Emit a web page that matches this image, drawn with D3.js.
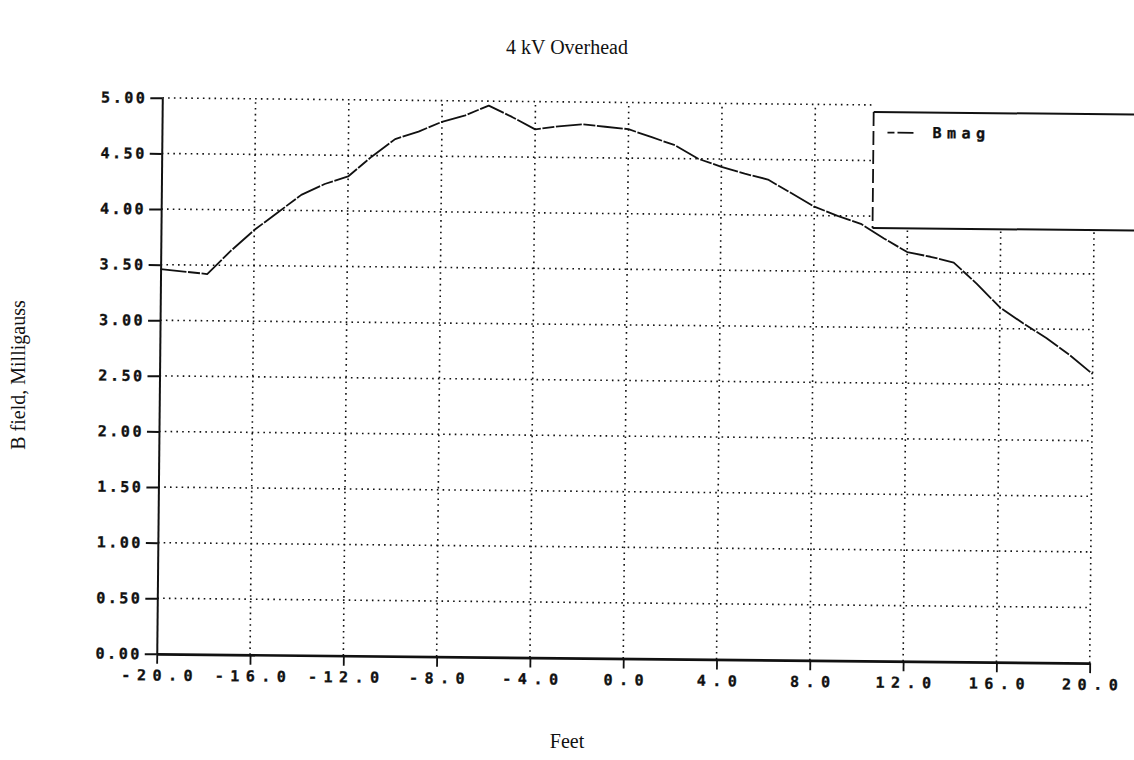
<!DOCTYPE html>
<html>
<head>
<meta charset="utf-8">
<script src="https://cdn.jsdelivr.net/npm/d3@7"></script>
<style>
  html, body { margin: 0; padding: 0; background: #fff; }
</style>
</head>
<body>
<svg id="chart" width="1134" height="760"></svg>
<script>
// Magnetic field profile across a 4 kV overhead line
const chartTitle = "4 kV Overhead";
const xTitle = "Feet";
const yTitle = "B field, Milligauss";
const seriesName = "Bmag";

// lateral distance from the line centre (ft)
const feet = [-20, -19, -18, -17, -16, -15, -14, -13, -12, -11, -10,
              -9, -8, -7, -6, -5, -4, -3, -2, -1, 0,
              1, 2, 3, 4, 5, 6, 7, 8, 9, 10,
              11, 12, 13, 14, 15, 16, 17, 18, 19, 20];
// resultant field magnitude (mG)
const bmag = [3.46, 3.44, 3.42, 3.63, 3.82, 3.98, 4.14, 4.24, 4.31, 4.49, 4.65,
              4.72, 4.81, 4.87, 4.96, 4.86, 4.75, 4.78, 4.80, 4.78, 4.76,
              4.69, 4.62, 4.50, 4.43, 4.37, 4.32, 4.20, 4.08, 4.00, 3.93,
              3.80, 3.68, 3.64, 3.59, 3.40, 3.19, 3.05, 2.92, 2.77, 2.60];

const xTicks = [-20, -16, -12, -8, -4, 0, 4, 8, 12, 16, 20];
const xTickLabels = ["-20.0", "-16.0", "-12.0", "-8.0", "-4.0", "0.0", "4.0", "8.0", "12.0", "16.0", "20.0"];
const yTicks = [0, 0.5, 1, 1.5, 2, 2.5, 3, 3.5, 4, 4.5, 5];
const yTickLabels = ["0.00", "0.50", "1.00", "1.50", "2.00", "2.50", "3.00", "3.50", "4.00", "4.50", "5.00"];

const W = 1134, H = 760;
const plot = { left: 159.5, right: 1092.5, top: 102.5, bottom: 658.5 };
const tilt = 0.57;               // the printed plot sits slightly askew on the page
const tiltCx = 626, tiltCy = 380.5;

const ink = "#111";
const monoFont = "'DejaVu Sans Mono', 'Liberation Mono', monospace";
const serifFont = "'Liberation Serif', 'DejaVu Serif', serif";

const svg = d3.select("#chart");
svg.append("rect").attr("width", W).attr("height", H).attr("fill", "#fff");

// page captions
svg.append("text")
  .attr("x", 567).attr("y", 54)
  .attr("text-anchor", "middle")
  .attr("font-family", serifFont).attr("font-size", 20).attr("fill", ink)
  .text(chartTitle);

svg.append("text")
  .attr("x", 567).attr("y", 748)
  .attr("text-anchor", "middle")
  .attr("font-family", serifFont).attr("font-size", 20).attr("fill", ink)
  .text(xTitle);

svg.append("text")
  .attr("transform", "translate(25,375) rotate(-90)")
  .attr("text-anchor", "middle")
  .attr("font-family", serifFont).attr("font-size", 20).attr("fill", ink)
  .text(yTitle);

const x = d3.scaleLinear().domain([-20, 20]).range([plot.left, plot.right]);
const y = d3.scaleLinear().domain([0, 5]).range([plot.bottom, plot.top]);

const g = svg.append("g").attr("transform", `rotate(${tilt},${tiltCx},${tiltCy})`);

// dotted grid
const grid = g.append("g")
  .attr("stroke", ink).attr("stroke-width", 1.6)
  .attr("stroke-dasharray", "1.6,4.2").attr("fill", "none");

grid.selectAll("line.h").data(yTicks.filter(d => d > 0)).join("line")
  .attr("class", "h")
  .attr("x1", x(-20)).attr("x2", x(20))
  .attr("y1", d => y(d)).attr("y2", d => y(d));

grid.selectAll("line.v").data(xTicks.filter(d => d > -20)).join("line")
  .attr("class", "v")
  .attr("x1", d => x(d)).attr("x2", d => x(d))
  .attr("y1", y(0)).attr("y2", y(5));

// axes
const yAxis = d3.axisLeft(y)
  .tickValues(yTicks)
  .tickFormat((d, i) => yTickLabels[i])
  .tickSize(12).tickSizeOuter(0).tickPadding(3);

const xAxis = d3.axisBottom(x)
  .tickValues(xTicks)
  .tickFormat((d, i) => xTickLabels[i])
  .tickSize(10).tickSizeOuter(0).tickPadding(6);

const gy = g.append("g").attr("transform", `translate(${plot.left},0)`).call(yAxis);
const gx = g.append("g").attr("transform", `translate(0,${plot.bottom})`).call(xAxis);

const tickTextStyle = sel => sel
  .attr("font-family", monoFont).attr("font-weight", "bold")
  .attr("font-size", 15)
  .attr("fill", ink).attr("stroke", ink).attr("stroke-width", 0.35);

gy.select(".domain").attr("stroke", ink).attr("stroke-width", 2);
gy.selectAll(".tick line").attr("stroke", ink).attr("stroke-width", 2);
gy.selectAll(".tick text").call(tickTextStyle)
  .attr("letter-spacing", "2.5px");

gx.select(".domain").attr("stroke", ink).attr("stroke-width", 2.6);
gx.selectAll(".tick line").attr("stroke", ink).attr("stroke-width", 1.8);
gx.selectAll(".tick text").call(tickTextStyle)
  .attr("letter-spacing", "6.5px").attr("dx", "3.2px");

// field magnitude curve
const line = d3.line()
  .x((d, i) => x(feet[i]))
  .y(d => y(d));

g.append("path")
  .datum(bmag)
  .attr("d", line)
  .attr("fill", "none")
  .attr("stroke", ink)
  .attr("stroke-width", 1.8)
  .attr("stroke-dasharray", "26,1.6,12,1.6")
  .attr("stroke-linejoin", "round");

// legend box, running off the right edge
const lg = g.append("g");
const lgLeft = 871, lgTop = 109.5, lgBottom = 225.5, lgRight = 1220;
lg.append("rect")
  .attr("x", lgLeft).attr("y", 94)
  .attr("width", lgRight - lgLeft).attr("height", lgBottom - 94)
  .attr("fill", "#fff");
lg.append("line")
  .attr("x1", lgLeft).attr("x2", lgRight).attr("y1", lgTop).attr("y2", lgTop)
  .attr("stroke", ink).attr("stroke-width", 2);
lg.append("line")
  .attr("x1", lgLeft).attr("x2", lgRight).attr("y1", lgBottom).attr("y2", lgBottom)
  .attr("stroke", ink).attr("stroke-width", 2);
lg.append("line")
  .attr("x1", lgLeft).attr("x2", lgLeft).attr("y1", lgTop).attr("y2", lgBottom)
  .attr("stroke", ink).attr("stroke-width", 1.8)
  .attr("stroke-dasharray", "14,5");
lg.append("line")
  .attr("x1", 885).attr("x2", 911).attr("y1", 130).attr("y2", 130)
  .attr("stroke", ink).attr("stroke-width", 1.8)
  .attr("stroke-dasharray", "7,3,16");
lg.append("text")
  .attr("x", 930).attr("y", 135)
  .attr("font-family", monoFont).attr("font-weight", "bold")
  .attr("font-size", 15).attr("letter-spacing", "5.5px")
  .attr("fill", ink).attr("stroke", ink).attr("stroke-width", 0.35)
  .text(seriesName);
</script>
</body>
</html>
